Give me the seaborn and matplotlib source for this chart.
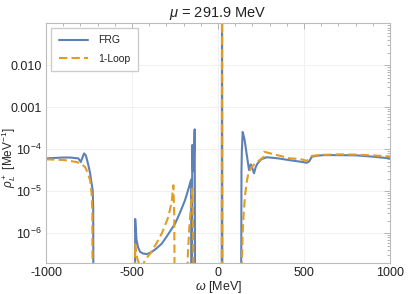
import matplotlib
matplotlib.use("Agg")
import matplotlib.pyplot as plt
import matplotlib.ticker as mticker
import numpy as np
import pandas as pd
import seaborn as sns

# values (omega in MeV, rho in MeV^-1); 1e-9 = below the axis
frg_omega = [-1000, -900, -860, -812, -798, -786, -779, -770, -764, -754, -744, -736, -729, -726, -724,
             -483, -482, -478, -474, -465, -453, -435, -415, -390, -360, -327, -290, -250, -220, -192,
             -175, -157, -155, -153, -150, -146, -141, -136, -133,
             21, 23, 25,
             133, 136, 138, 143, 153, 167, 180, 190, 199, 209, 219, 229, 250, 283, 350, 419, 477, 516,
             530, 545, 580, 612, 700, 806, 900, 1000]
frg_rho = [6.1e-5, 6.4e-5, 6.4e-5, 6.1e-5, 5.0e-5, 6.8e-5, 8.0e-5, 7.3e-5, 6.1e-5, 4.2e-5, 2.7e-5, 1.6e-5, 1.07e-5, 4.3e-6, 1e-9,
           1e-9, 2.2e-6, 1.2e-6, 6.9e-7, 4.6e-7, 3.6e-7, 3.3e-7, 3.2e-7, 3.5e-7, 4.3e-7, 5.7e-7, 9.5e-7, 1.7e-6, 3.2e-6, 6.2e-6,
           1.05e-5, 1.9e-5, 1e-9, 1e-9, 1.27e-4, 3.0e-5, 5.0e-5, 3.0e-4, 1e-9,
           1e-9, 1.0, 1e-9,
           1e-9, 3.0e-5, 8.8e-5, 2.6e-4, 1.8e-4, 7.3e-5, 3.2e-5, 4.4e-5, 3.6e-5, 2.7e-5, 3.8e-5, 4.6e-5, 5.8e-5, 6.5e-5, 6.1e-5, 5.5e-5, 5.1e-5, 4.8e-5,
           5.2e-5, 6.7e-5, 7.1e-5, 7.3e-5, 7.3e-5, 7.2e-5, 6.7e-5, 6.1e-5]

loop_omega = [-1000, -900, -822, -800, -773, -760, -744, -735, -731, -729,
              -487, -484, -482, -475, -467, -455, -444, -425, -395, -360, -327, -290, -270, -260, -255, -250,
              -182, -176, -168, -160, -154, -149, -145, -140,
              21, 23, 25,
              136, 138, 143, 150, 157, 166, 176, 195, 215, 240, 254, 264, 267, 300, 350, 419, 477, 516,
              530, 545, 600, 709, 800, 900, 967, 1000]
loop_rho = [5.8e-5, 5.6e-5, 5.0e-5, 4.6e-5, 3.8e-5, 2.9e-5, 1.85e-5, 8.9e-6, 3.0e-6, 1e-9,
            1e-9, 2.0e-7, 5.5e-7, 3.3e-7, 2.3e-7, 1.7e-7, 1.5e-7, 2.3e-7, 3.3e-7, 5.6e-7, 1.0e-6, 2.4e-6, 5.5e-6, 1.4e-5, 3.0e-6, 1e-9,
            1e-9, 3.0e-7, 1.2e-6, 3.5e-6, 7.5e-6, 1.17e-5, 1.0e-6, 1e-9,
            1e-9, 1.0, 1e-9,
            1e-9, 2.0e-7, 1.1e-6, 3.5e-6, 8.1e-6, 1.6e-5, 2.7e-5, 3.8e-5, 4.6e-5, 5.5e-5, 6.1e-5, 6.5e-5, 8.8e-5, 8.1e-5, 7.2e-5, 6.1e-5, 5.9e-5, 5.35e-5,
            5.8e-5, 7.0e-5, 7.4e-5, 7.6e-5, 7.5e-5, 7.2e-5, 6.9e-5, 6.8e-5]

series_names = ["FRG", "1-Loop"]
x_ticks = [-1000, -500, 0, 500, 1000]
y_ticks = [1e-2, 1e-3, 1e-4, 1e-5, 1e-6]
y_tick_labels = ["0.010", "0.001", r"$\mathrm{10^{-4}}$", r"$\mathrm{10^{-5}}$", r"$\mathrm{10^{-6}}$"]

df = pd.concat([
    pd.DataFrame({"omega": frg_omega, "rho": frg_rho, "series": series_names[0]}),
    pd.DataFrame({"omega": loop_omega, "rho": loop_rho, "series": series_names[1]}),
], ignore_index=True)

sns.set_style("white")
plt.rcParams["font.family"] = ["Liberation Sans", "DejaVu Sans"]
plt.rcParams["mathtext.fontset"] = "custom"
plt.rcParams["mathtext.rm"] = "Liberation Sans"
plt.rcParams["mathtext.it"] = "Liberation Sans:italic"
plt.rcParams["axes.unicode_minus"] = False
plt.rcParams["text.color"] = "#222222"

fig, ax = plt.subplots(figsize=(4.15, 2.94), dpi=100)
fig.subplots_adjust(left=0.111, right=0.940, bottom=0.105, top=0.922)

sns.lineplot(data=df, x="omega", y="rho", hue="series", style="series",
             hue_order=series_names, style_order=series_names,
             palette={"FRG": "#5E81B5", "1-Loop": "#E19C24"},
             dashes={"FRG": "", "1-Loop": (4, 2)},
             estimator=None, sort=False, lw=1.5, ax=ax)

ax.set_yscale("log")
ax.set_xlim(-1000, 1000)
ax.set_ylim(1.95e-7, 0.103)
ax.set_xticks(x_ticks)
ax.set_yticks(y_ticks, y_tick_labels)
ax.xaxis.set_minor_locator(mticker.MultipleLocator(100))
ax.yaxis.set_minor_locator(mticker.LogLocator(base=10, subs=np.arange(2, 10)))
ax.yaxis.set_minor_formatter(mticker.NullFormatter())
ax.tick_params(which="both", direction="in", top=True, right=True, color="#AAAAAA",
               labelsize=9, labelcolor="#222222", width=0.6, pad=3)
ax.tick_params(which="major", length=4)
ax.tick_params(which="minor", length=2)
ax.grid(True, which="major", color="#EEEEEE", lw=0.6)
for s in ax.spines.values():
    s.set_color("#BBBBBB")
    s.set_linewidth(0.8)

ax.set_xlabel(r"$\omega$ [MeV]", fontsize=9, labelpad=0)
ax.set_ylabel(r"$\rho_L^+$ [MeV$^{\mathrm{-1}}$]", fontsize=8.5)
ax.yaxis.set_label_coords(-0.083, 0.44)
ax.set_title(r"$\mu$ = 291.9 MeV", fontsize=10.5, pad=4)

handles, labels = ax.get_legend_handles_labels()
ax.legend(handles, labels, loc="upper left", fontsize=7.5, frameon=True, fancybox=False,
          edgecolor="#CCCCCC", framealpha=1, borderaxespad=0.5, handlelength=2.8,
          handletextpad=1.0, borderpad=0.7, labelspacing=0.8)

plt.savefig("out.png", dpi=100)
